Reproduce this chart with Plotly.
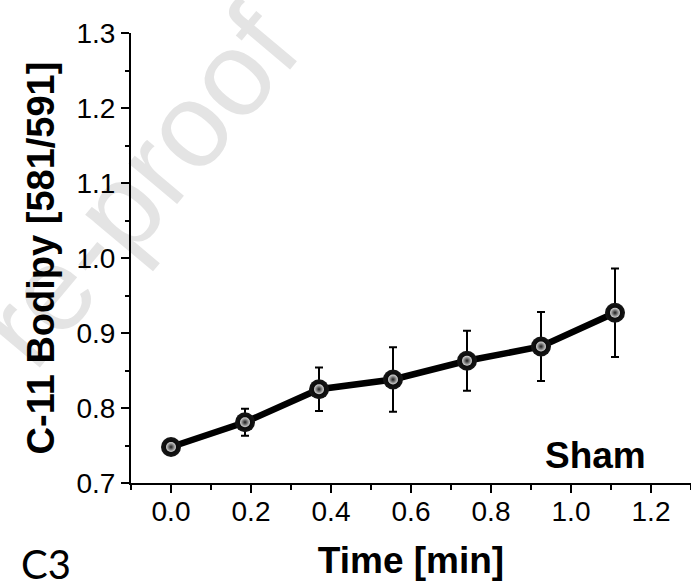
import plotly.graph_objects as go

# C-11 Bodipy ratio over time, Sham group (mean ± SD)
time_min = [0.0, 0.185, 0.37, 0.555, 0.74, 0.925, 1.11]
ratio_mean = [0.748, 0.781, 0.825, 0.838, 0.863, 0.882, 0.927]
ratio_err = [0.010, 0.018, 0.029, 0.043, 0.040, 0.046, 0.059]

x_ticks = [0.0, 0.2, 0.4, 0.6, 0.8, 1.0, 1.2]
x_tick_text = ["0.0", "0.2", "0.4", "0.6", "0.8", "1.0", "1.2"]
y_ticks = [0.7, 0.8, 0.9, 1.0, 1.1, 1.2, 1.3]
y_tick_text = ["0.7", "0.8", "0.9", "1.0", "1.1", "1.2", "1.3"]

W, H = 691, 586
M_L, M_R, M_T, M_B = 131, 0, 33, 103
PW, PH = W - M_L - M_R, H - M_T - M_B

BASE = "Liberation Sans, Arial, sans-serif"


def px_to_paper(px, py):
    return (px - M_L) / PW, (H - M_B - py) / PH


fig = go.Figure()

# line, error bars and dark spheres
fig.add_trace(go.Scatter(
    x=time_min, y=ratio_mean,
    mode="lines+markers",
    line=dict(color="black", width=6.5),
    marker=dict(size=20, color="#161616",
                gradient=dict(type="radial", color="#000000"),
                line=dict(width=0)),
    error_y=dict(type="data", array=ratio_err, visible=True,
                 color="black", thickness=2, width=4),
    showlegend=False, hoverinfo="x+y",
))
# specular highlight on each sphere
fig.add_trace(go.Scatter(
    x=time_min, y=ratio_mean,
    mode="markers",
    marker=dict(size=10, color="#d8d8d8",
                gradient=dict(type="radial", color="#1a1a1a"),
                line=dict(width=0)),
    showlegend=False, hoverinfo="skip",
))

fig.add_annotation(
    text="<b>Sham</b>", xref="paper", yref="paper",
    x=0.924, y=0.062, xanchor="right", yanchor="middle",
    showarrow=False, font=dict(family=BASE, size=37, color="black"),
)
cx, cy = px_to_paper(46, 564)
fig.add_annotation(
    text="C3", xref="paper", yref="paper",
    x=cx, y=cy, xanchor="center", yanchor="middle",
    showarrow=False, font=dict(family="Lato, Open Sans, sans-serif", size=40, color="black"),
)

# faint diagonal watermark, kept beneath the data
wx, wy = px_to_paper(-34, 373)
fig.add_shape(
    type="line", xref="paper", yref="paper", layer="below",
    x0=wx - 0.5, y0=wy - 0.5, x1=wx + 0.5, y1=wy + 0.5,
    line=dict(width=0, color="rgba(0,0,0,0)"),
    label=dict(text="Journal Pre-proof", textangle=-50, textposition="middle",
               yanchor="middle", xanchor="center",
               font=dict(family=BASE, size=120, color="#e4e4e4")),
)

fig.update_layout(
    width=W, height=H,
    margin=dict(l=M_L, r=M_R, t=M_T, b=M_B, autoexpand=False),
    paper_bgcolor="white", plot_bgcolor="white",
    font=dict(family=BASE, color="black"),
    xaxis=dict(
        range=[-0.1, 1.3], tickvals=x_ticks, ticktext=x_tick_text,
        showgrid=False, zeroline=False,
        showline=True, linecolor="black", linewidth=2,
        ticks="outside", ticklen=8, tickwidth=2, tickcolor="black",
        minor=dict(dtick=0.1, tick0=-0.1, ticks="outside", ticklen=5, tickwidth=2,
                   tickcolor="black", showgrid=False),
        tickfont=dict(size=28, family=BASE),
        ticklabelstandoff=-6,
        title=dict(text="<b>Time [min]</b>", font=dict(size=37, family=BASE), standoff=22),
        automargin=False,
    ),
    yaxis=dict(
        range=[0.7, 1.3], tickvals=y_ticks, ticktext=y_tick_text,
        showgrid=False, zeroline=False,
        showline=True, linecolor="black", linewidth=2,
        ticks="outside", ticklen=8, tickwidth=2, tickcolor="black",
        minor=dict(dtick=0.05, tick0=0.7, ticks="outside", ticklen=4, tickwidth=2,
                   tickcolor="black", showgrid=False),
        tickfont=dict(size=28, family=BASE),
        title=dict(text="<b>C-11 Bodipy [581/591]</b>", font=dict(size=38, family=BASE), standoff=10),
        automargin=False,
    ),
)

fig.write_html("out.html")
